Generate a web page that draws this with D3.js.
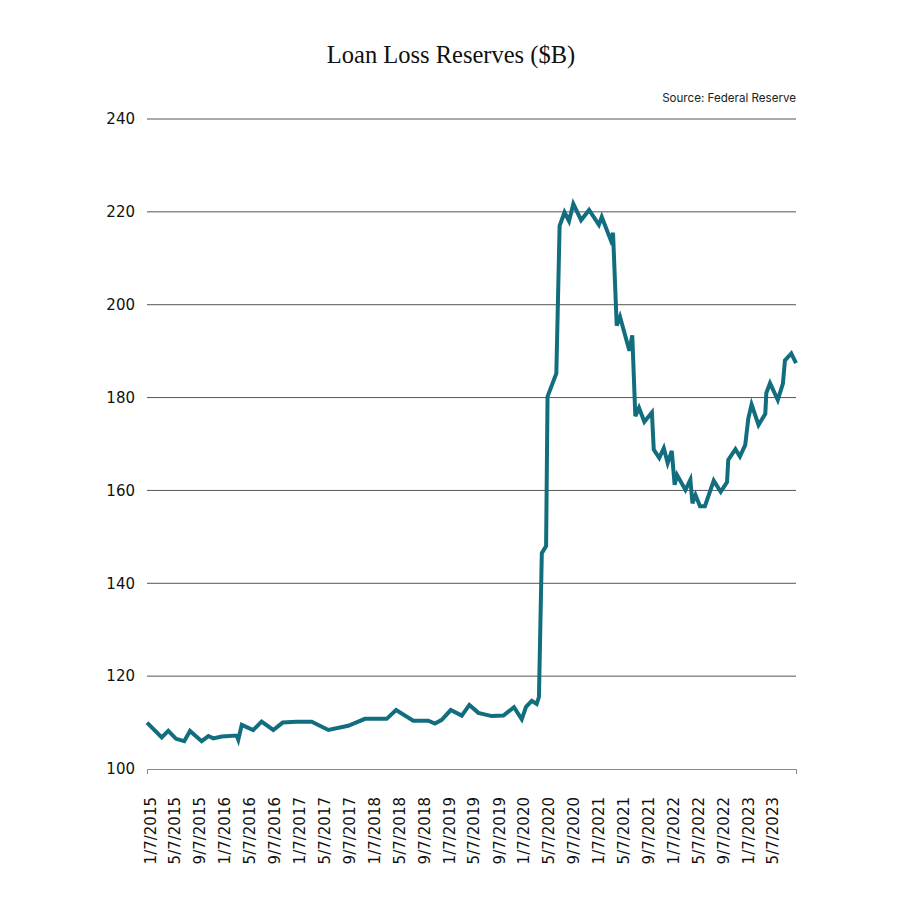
<!DOCTYPE html>
<html>
<head>
<meta charset="utf-8">
<script src="https://cdn.jsdelivr.net/npm/d3@7"></script>
<style>
  body { margin: 0; background: #fff; }
  svg { display: block; }
</style>
</head>
<body>
<div id="chart"></div>
<script>
// Loan loss reserves, $B
var dates = [
  "2015-01-07", "2015-03-20", "2015-04-21", "2015-05-29", "2015-07-08", "2015-08-05",
  "2015-10-01", "2015-11-03", "2015-11-27", "2016-01-07", "2016-03-20", "2016-03-28",
  "2016-04-14", "2016-06-09", "2016-07-20", "2016-09-15", "2016-10-31", "2017-01-07",
  "2017-03-22", "2017-06-11", "2017-09-16", "2017-12-07", "2018-03-23", "2018-05-08",
  "2018-07-31", "2018-10-12", "2018-11-14", "2018-12-17", "2019-01-30", "2019-03-25",
  "2019-05-01", "2019-06-14", "2019-08-18", "2019-10-14", "2019-12-05", "2020-01-12",
  "2020-02-02", "2020-03-01", "2020-03-25", "2020-04-05", "2020-04-19", "2020-05-10",
  "2020-05-17", "2020-06-29", "2020-07-15", "2020-08-08", "2020-08-30", "2020-09-20",
  "2020-10-28", "2020-12-06", "2021-01-23", "2021-02-06", "2021-03-22", "2021-04-02",
  "2021-04-20", "2021-05-06", "2021-06-21", "2021-07-05", "2021-07-20", "2021-08-07",
  "2021-09-02", "2021-10-09", "2021-10-18", "2021-11-14", "2021-12-06", "2021-12-25",
  "2022-01-14", "2022-01-28", "2022-02-09", "2022-03-22", "2022-04-15", "2022-04-25",
  "2022-05-10", "2022-06-01", "2022-06-25", "2022-08-07", "2022-09-10", "2022-10-11",
  "2022-10-17", "2022-11-21", "2022-12-13", "2023-01-08", "2023-01-23", "2023-02-08",
  "2023-03-14", "2023-04-16", "2023-04-21", "2023-05-09", "2023-06-16", "2023-07-11",
  "2023-07-21", "2023-08-21", "2023-09-13"
];
var values = [
  110.0, 106.8, 108.2, 106.5, 106.0, 108.2,
  106.0, 107.1, 106.6, 107.0, 107.2, 106.3,
  109.5, 108.4, 110.2, 108.4, 110.0, 110.2,
  110.2, 108.4, 109.3, 110.8, 110.8, 112.7,
  110.4, 110.4, 109.8, 110.6, 112.7, 111.5,
  113.8, 112.1, 111.4, 111.5, 113.3, 110.7,
  113.4, 114.7, 114.0, 115.5, 146.5, 148.0,
  180.2, 185.2, 217.0, 219.9, 218.0, 221.7,
  218.2, 220.4, 217.2, 218.9, 213.9, 215.5,
  195.5, 197.4, 190.1, 193.4, 176.0, 177.8,
  174.8, 176.8, 168.8, 167.0, 169.1, 165.9,
  168.5, 161.2, 163.3, 160.1, 162.3, 157.2,
  159.0, 156.6, 156.6, 162.1, 159.7, 161.8,
  166.6, 168.9, 167.3, 169.8, 175.5, 178.5,
  174.1, 176.5, 181.0, 183.1, 179.5, 183.0,
  188.0, 189.5, 187.4
];
var yTicks = [100, 120, 140, 160, 180, 200, 220, 240];
var xTickDates = [
  "2015-01-07", "2015-05-07", "2015-09-07", "2016-01-07", "2016-05-07", "2016-09-07",
  "2017-01-07", "2017-05-07", "2017-09-07", "2018-01-07", "2018-05-07", "2018-09-07",
  "2019-01-07", "2019-05-07", "2019-09-07", "2020-01-07", "2020-05-07", "2020-09-07",
  "2021-01-07", "2021-05-07", "2021-09-07", "2022-01-07", "2022-05-07", "2022-09-07",
  "2023-01-07", "2023-05-07"
];
var chartTitle = "Loan Loss Reserves ($B)";
var sourceNote = "Source: Federal Reserve";

var parseDate = d3.timeParse("%Y-%m-%d");
var fmtDate = d3.timeFormat("%-m/%-d/%Y");
var data = dates.map(function (d, i) {
  return { x: parseDate(d), y: values[i] };
});

var tickFont = "'DejaVu Sans', sans-serif";
var noteFont = "Inter, 'Noto Sans', sans-serif";
var margin = { top: 119, right: 104, bottom: 131, left: 147 },
    width = 900 - margin.left - margin.right,
    height = 900 - margin.top - margin.bottom;

var svg = d3.select("#chart")
  .append("svg")
  .attr("width", 900)
  .attr("height", 900)
  .style("background", "#fff");

svg.append("text")
  .attr("x", 451)
  .attr("y", 63)
  .attr("text-anchor", "middle")
  .style("font-family", "'Liberation Serif', serif")
  .style("font-size", "24.5px")
  .style("fill", "#111")
  .text(chartTitle);

svg.append("text")
  .attr("x", margin.left + width)
  .attr("y", 102)
  .attr("text-anchor", "end")
  .style("font-family", noteFont)
  .style("font-size", "11.6px")
  .style("fill", "#222")
  .text(sourceNote);

var g = svg.append("g")
  .attr("transform", "translate(" + margin.left + "," + margin.top + ")");

var x = d3.scaleTime()
  .domain([parseDate("2015-01-07"), parseDate("2023-09-13")])
  .range([0, width]);

var y = d3.scaleLinear()
  .domain([100, 240])
  .range([height, 0]);

// horizontal gridlines (not on the baseline)
g.append("g")
  .selectAll("line")
  .data(yTicks.filter(function (t) { return t > 100; }))
  .enter()
  .append("line")
  .attr("x1", 0)
  .attr("x2", width)
  .attr("y1", function (d) { return y(d); })
  .attr("y2", function (d) { return y(d); })
  .attr("stroke", "#555")
  .attr("stroke-width", 1);

// y labels
var yAxis = g.append("g")
  .call(d3.axisLeft(y).tickValues(yTicks).tickSize(0).tickPadding(12));
yAxis.select(".domain").remove();
yAxis.selectAll("text")
  .style("font-family", tickFont)
  .style("font-size", "15px")
  .style("fill", "#111");

// x axis
var xAxis = g.append("g")
  .attr("transform", "translate(0," + height + ")")
  .call(d3.axisBottom(x)
    .tickValues(xTickDates.map(parseDate))
    .tickFormat(fmtDate)
    .tickSizeInner(0)
    .tickSizeOuter(5));
xAxis.select(".domain").attr("stroke", "#888").attr("stroke-width", 1);
xAxis.selectAll("text")
  .attr("transform", "rotate(-90)")
  .attr("text-anchor", "end")
  .attr("x", -28)
  .attr("y", 0)
  .attr("dy", "0.55em")
  .style("font-family", tickFont)
  .style("font-size", "15px")
  .style("fill", "#111");

// the line
g.append("path")
  .datum(data)
  .attr("fill", "none")
  .attr("stroke", "#126e7e")
  .attr("stroke-width", 4)
  .attr("stroke-linejoin", "miter")
  .attr("d", d3.line()
    .x(function (d) { return x(d.x); })
    .y(function (d) { return y(d.y); })
  );
</script>
</body>
</html>
